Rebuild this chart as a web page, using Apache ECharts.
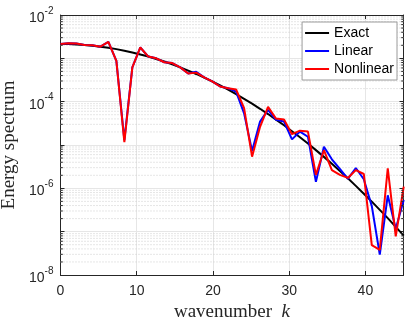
<!DOCTYPE html>
<html><head><meta charset="utf-8">
<script src="https://cdn.jsdelivr.net/npm/echarts@6.0.0/dist/echarts.min.js"></script>
<style>html,body{margin:0;padding:0;background:#fff}#c{width:412px;height:322px}</style>
</head><body><div id="c"></div>
<script>
// wavenumbers (n * pi/3)
const k = [0, 1.047, 2.094, 3.142, 4.189, 5.236, 6.283, 7.330, 8.378, 9.425, 10.472, 11.519, 12.566, 13.614, 14.661, 15.708, 16.755, 17.802, 18.850, 19.897, 20.944, 21.991, 23.038, 24.086, 25.133, 26.180, 27.227, 28.274, 29.322, 30.369, 31.416, 32.463, 33.510, 34.558, 35.605, 36.652, 37.699, 38.746, 39.794, 40.841, 41.888, 42.935, 43.982, 45.029];
const exact = [2.14e-3, 2.13e-3, 2.09e-3, 2.03e-3, 1.96e-3, 1.86e-3, 1.75e-3, 1.63e-3, 1.50e-3, 1.37e-3, 1.23e-3, 1.10e-3, 9.68e-4, 8.43e-4, 7.26e-4, 6.19e-4, 5.22e-4, 4.36e-4, 3.59e-4, 2.93e-4, 2.37e-4, 1.89e-4, 1.49e-4, 1.16e-4, 8.97e-5, 6.85e-5, 5.18e-5, 3.86e-5, 2.85e-5, 2.08e-5, 1.51e-5, 1.08e-5, 7.62e-6, 5.32e-6, 3.68e-6, 2.52e-6, 1.70e-6, 1.14e-6, 7.53e-7, 4.93e-7, 3.19e-7, 2.05e-7, 1.29e-7, 8.11e-8];
const linear = [2.14e-3, 2.24e-3, 2.19e-3, 2.04e-3, 2.00e-3, 1.86e-3, 2.40e-3, 8.71e-4, 1.29e-5, 6.17e-4, 1.78e-3, 1.10e-3, 1.00e-3, 8.13e-4, 7.76e-4, 6.17e-4, 4.47e-4, 4.90e-4, 3.63e-4, 2.95e-4, 2.24e-4, 2.04e-4, 1.70e-4, 5.37e-5, 7.24e-6, 3.47e-5, 6.46e-5, 3.80e-5, 3.47e-5, 1.35e-5, 2.04e-5, 1.55e-5, 1.41e-6, 9.12e-6, 4.68e-6, 2.82e-6, 1.66e-6, 2.95e-6, 1.62e-6, 3.89e-7, 2.95e-8, 6.92e-7, 1.17e-7, 5.37e-7];
const nonlinear = [2.14e-3, 2.24e-3, 2.19e-3, 2.04e-3, 2.00e-3, 1.86e-3, 2.40e-3, 8.71e-4, 1.17e-5, 6.17e-4, 1.78e-3, 1.10e-3, 1.00e-3, 8.13e-4, 7.76e-4, 6.17e-4, 4.47e-4, 4.68e-4, 3.63e-4, 2.95e-4, 2.24e-4, 2.04e-4, 1.91e-4, 7.08e-5, 5.37e-6, 2.63e-5, 7.59e-5, 4.07e-5, 3.89e-5, 1.78e-5, 2.14e-5, 2.04e-5, 2.04e-6, 7.59e-6, 2.63e-6, 2.04e-6, 1.74e-6, 2.63e-6, 2.14e-6, 4.90e-8, 3.80e-8, 2.88e-6, 7.76e-8, 1.10e-6];
const seriesNames = ['Exact', 'Linear', 'Nonlinear'];
const xTickLabels = [0, 10, 20, 30, 40];
const yLabelExponents = [-2, -4, -6, -8];

const AX = '#262626';
const SANS = 'Liberation Sans';
const SERIF = 'Liberation Serif';
const xMin = 0, xMax = 45, yMin = 1e-8, yMax = 1e-2;

// minor grid / minor ticks (axis decoration, drawn through the axis scales)
const minorGridPts = [], minorTickPts = [];
for (let e = -8; e < -2; e++) {
  for (let m = 2; m <= 9; m++) {
    const v = m * Math.pow(10, e);
    minorGridPts.push([xMin, v], [xMax, v], ['-', '-']);
    minorTickPts.push([xMin, v], [xMin + 0.3, v], ['-', '-']);
    minorTickPts.push([xMax - 0.3, v], [xMax, v], ['-', '-']);
  }
}

const chart = echarts.init(document.getElementById('c'), null, { renderer: 'canvas' });
const pair = arr => k.map((x, i) => [x, arr[i]]);
const commonX = { type: 'value', min: xMin, max: xMax, interval: 10 };
const commonY = { type: 'log', logBase: 10, min: yMin, max: yMax, splitNumber: 6, interval: 1 };

chart.setOption({
  animation: false,
  backgroundColor: '#fff',
  grid: { left: 60.5, right: 8.5, top: 15, bottom: 47, containLabel: false, outerBoundsMode: 'none' },
  legend: {
    data: seriesNames, orient: 'vertical', right: 15, top: 22,
    icon: 'rect',
    backgroundColor: '#fff', borderColor: '#9a9a9a', borderWidth: 1, borderRadius: 0,
    padding: [4, 3, 4, 3], itemGap: 4, itemWidth: 24, itemHeight: 2,
    textStyle: { fontFamily: SANS, fontSize: 14, color: '#000', lineHeight: 14 }
  },
  xAxis: [
    Object.assign({}, commonX, {
      position: 'bottom',
      axisLine: { show: true, onZero: false, lineStyle: { color: AX, width: 1 } },
      axisTick: { show: true, inside: true, length: 4, lineStyle: { color: AX } },
      axisLabel: { show: true, margin: 9, fontFamily: SANS, fontSize: 14, color: AX,
        formatter: v => (xTickLabels.indexOf(v) >= 0 ? String(v) : '') },
      splitLine: { show: true, lineStyle: { color: '#e6e6e6', width: 1 } },
      name: '{n|wavenumber  }{i|k}', nameLocation: 'middle', nameGap: 23,
      nameTextStyle: { rich: {
        n: { fontFamily: SERIF, fontSize: 19, color: AX },
        i: { fontFamily: SERIF, fontSize: 19, fontStyle: 'italic', color: AX } } }
    }),
    Object.assign({}, commonX, {
      position: 'top',
      axisLine: { show: true, onZero: false, lineStyle: { color: AX, width: 1 } },
      axisTick: { show: true, inside: true, length: 4, lineStyle: { color: AX } },
      axisLabel: { show: false }, splitLine: { show: false }
    })
  ],
  yAxis: [
    Object.assign({}, commonY, {
      position: 'left',
      axisLine: { show: true, onZero: false, lineStyle: { color: AX, width: 1 } },
      axisTick: { show: true, inside: true, length: 4, lineStyle: { color: AX } },
      axisLabel: { show: true, margin: 7, color: AX,
        formatter: v => {
          const e = Math.round(Math.log10(v));
          return yLabelExponents.indexOf(e) >= 0 ? '{b|10}{s|' + e + '}' : '';
        },
        rich: {
          b: { fontFamily: SANS, fontSize: 14, color: AX, padding: [6, 0, 0, 0] },
          s: { fontFamily: SANS, fontSize: 10, color: AX, padding: [0, 0, 8, 0] }
        } },
      splitLine: { show: true, lineStyle: { color: '#e6e6e6', width: 1 } },
      name: 'Energy spectrum', nameLocation: 'middle', nameGap: 41,
      nameTextStyle: { fontFamily: SERIF, fontSize: 19, color: AX }
    }),
    Object.assign({}, commonY, {
      position: 'right',
      axisLine: { show: true, onZero: false, lineStyle: { color: AX, width: 1 } },
      axisTick: { show: true, inside: true, length: 4, lineStyle: { color: AX } },
      axisLabel: { show: false }, splitLine: { show: false }
    })
  ],
  series: [
    { name: '_minorGrid', type: 'line', data: minorGridPts, z: 1, silent: true,
      symbol: 'none', showSymbol: false, connectNulls: false,
      lineStyle: { type: [1, 2], color: '#cccccc', width: 1 } },
    { name: '_minorTicks', type: 'line', data: minorTickPts, z: 4, silent: true,
      symbol: 'none', showSymbol: false, connectNulls: false,
      lineStyle: { type: 'solid', color: AX, width: 1 } },
    { name: 'Exact', type: 'line', data: pair(exact), symbol: 'none', showSymbol: false, z: 2,
      lineStyle: { color: '#000', width: 2 }, itemStyle: { color: '#000' } },
    { name: 'Linear', type: 'line', data: pair(linear), symbol: 'none', showSymbol: false, z: 3,
      lineStyle: { color: '#0000ff', width: 2 }, itemStyle: { color: '#0000ff' } },
    { name: 'Nonlinear', type: 'line', data: pair(nonlinear), symbol: 'none', showSymbol: false, z: 3,
      lineStyle: { color: '#ff0000', width: 2 }, itemStyle: { color: '#ff0000' } }
  ]
});
</script></body></html>
